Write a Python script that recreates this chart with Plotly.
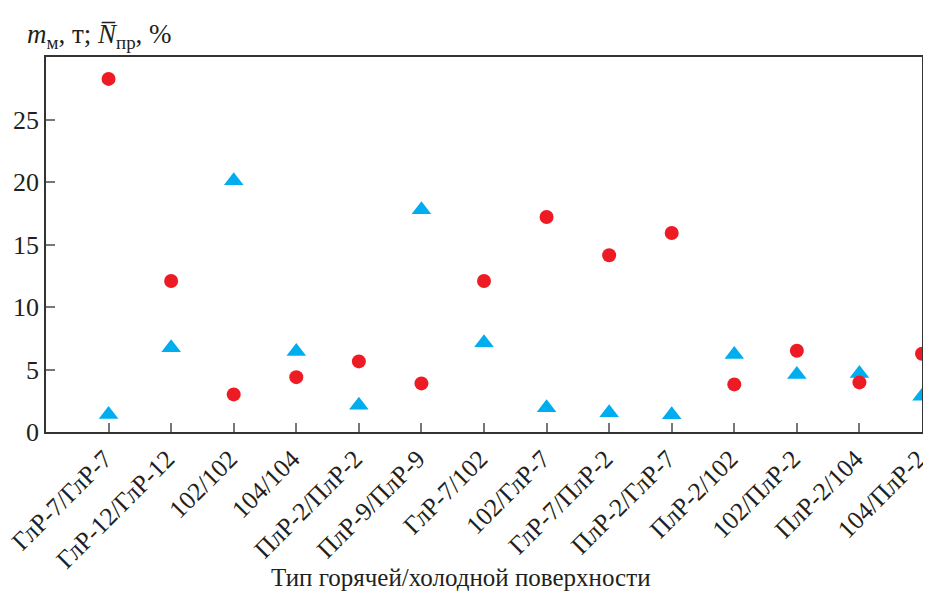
import plotly.graph_objects as go

categories = ["ГлР-7/ГлР-7", "ГлР-12/ГлР-12", "102/102", "104/104", "ПлР-2/ПлР-2",
              "ПлР-9/ПлР-9", "ГлР-7/102", "102/ГлР-7", "ГлР-7/ПлР-2", "ПлР-2/ГлР-7",
              "ПлР-2/102", "102/ПлР-2", "ПлР-2/104", "104/ПлР-2"]
m_values = [28.25, 12.08, 3.01, 4.39, 5.65, 3.89, 12.08, 17.2, 14.14, 15.92, 3.81, 6.5, 3.97, 6.26]
n_values = [1.41, 6.74, 20.11, 6.45, 2.14, 17.78, 7.14, 1.94, 1.55, 1.39, 6.21, 4.61, 4.69, 2.86]
y_ticks = [0, 5, 10, 15, 20, 25]

FONT = "Liberation Serif, Times New Roman, serif"
TXT = "#231f20"

fig = go.Figure()
fig.add_trace(go.Scatter(x=categories, y=n_values, mode="markers",
                         marker=dict(symbol="triangle-up", size=17, color="#00aeef"),
                         cliponaxis=False, showlegend=False))
fig.add_trace(go.Scatter(x=categories, y=m_values, mode="markers",
                         marker=dict(symbol="circle", size=14, color="#ed1c24"),
                         cliponaxis=False, showlegend=False))

# page body adds an 8px offset; figure is sized so the plot lands where the reference has it
fig.update_layout(
    width=923, height=586,
    margin=dict(l=38, r=9, t=49, b=162, autoexpand=False),
    paper_bgcolor="white", plot_bgcolor="white",
    font=dict(family=FONT, size=24, color=TXT),
    xaxis=dict(type="category", range=[-1, 13], showline=True, linecolor="#333",
               linewidth=1.5, mirror=True, ticks="inside", ticklen=9, tickcolor="#777",
               tickwidth=1.5, tickangle=-45, showgrid=False, zeroline=False,
               automargin=False, ticklabelshift=-4,
               tickfont=dict(size=25.5, color=TXT, family=FONT)),
    yaxis=dict(range=[0, 30], showline=True, linecolor="#333", linewidth=1.5,
               mirror=True, ticks="inside", ticklen=9, tickcolor="#777", tickwidth=1.5,
               tickvals=y_ticks, ticktext=[str(v) for v in y_ticks], showgrid=False,
               zeroline=False, automargin=False,
               tickfont=dict(size=26, color=TXT, family=FONT)),
    annotations=[
        dict(xref="paper", yref="paper", x=-0.024, y=1.056, xanchor="left", yanchor="middle",
             showarrow=False,
             text="<i>m</i><sub>м</sub>, т; <i>N\u0305</i><sub>пр</sub>, %",
             font=dict(size=27, color=TXT, family=FONT)),
        dict(xref="paper", yref="paper", x=0.474, y=-0.389, xanchor="center", yanchor="middle",
             showarrow=False, text="Тип горячей/холодной поверхности",
             font=dict(size=25, color=TXT, family=FONT)),
    ],
)

fig.write_html("out.html")
